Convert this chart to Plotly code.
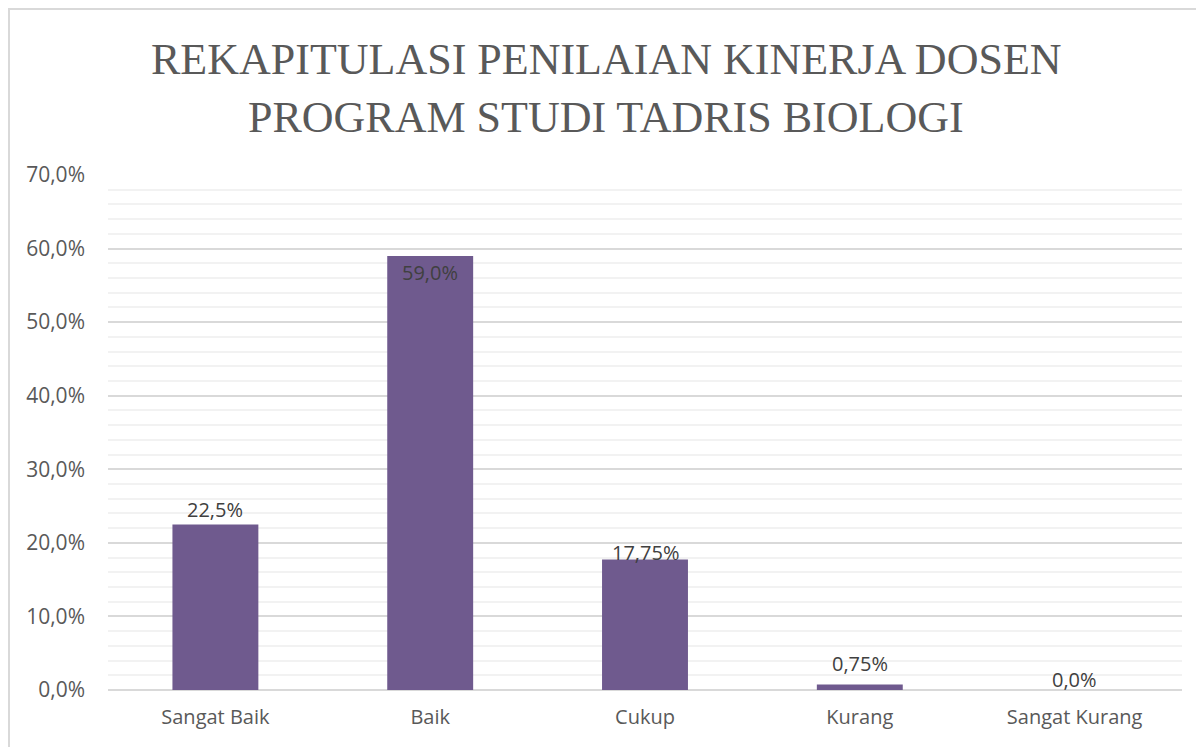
import plotly.graph_objects as go

categories = ["Sangat Baik", "Baik", "Cukup", "Kurang", "Sangat Kurang"]
values = [0.225, 0.59, 0.1775, 0.0075, 0.0]
value_labels = ["22,5%", "59,0%", "17,75%", "0,75%", "0,0%"]
title_lines = ["REKAPITULASI PENILAIAN KINERJA DOSEN", "PROGRAM STUDI TADRIS BIOLOGI"]

# label placement offsets (pixels) relative to bar top
label_shift = [15, -17, 7, 21, 11]

# page body has an 8px margin, so figure is sized to fill the rest of the window
W, H = 1196, 739
L, R, T, B = 100, 22, 167, 57
pw, ph = W - L - R, H - T - B

fig = go.Figure()
fig.add_trace(go.Bar(
    x=categories, y=values,
    marker=dict(color="#6F5A8E", line=dict(width=0)),
    width=0.4,
    hoverinfo="skip",
))

for c, v, t, s in zip(categories, values, value_labels, label_shift):
    fig.add_annotation(x=c, y=v, text=t, showarrow=False, yshift=s,
                       font=dict(family="Open Sans", size=20, color="#404040"))

# title lines as annotations (pixel centres from top of figure)
for line, ypx in zip(title_lines, [51, 109]):
    fig.add_annotation(xref="paper", yref="paper", x=(W / 2 - L) / pw, y=(H - B - ypx) / ph,
                       text=line, showarrow=False, xanchor="center", yanchor="middle",
                       font=dict(family="Liberation Serif", size=44, color="#595959"))

# chart border
fig.add_shape(type="rect", xref="paper", yref="paper",
              x0=(1 - L) / pw, x1=(W + 20 - L) / pw,
              y0=-(B + 20) / ph, y1=(H - B - 1) / ph,
              line=dict(color="#D9D9D9", width=2), fillcolor="rgba(0,0,0,0)", layer="below")

fig.update_layout(
    width=W, height=H,
    margin=dict(l=L, r=R, t=T, b=B),
    paper_bgcolor="white", plot_bgcolor="white",
    separators=",.",
    showlegend=False,
    bargap=0.6,
    xaxis=dict(showgrid=False, showline=False, ticks="", zeroline=False,
               tickfont=dict(family="Open Sans", size=20, color="#595959"),
               ticklabelstandoff=13),
    yaxis=dict(range=[0, 0.7], dtick=0.1, tickformat=".1%",
               showgrid=True, gridcolor="#D9D9D9", gridwidth=1.5,
               zeroline=True, zerolinecolor="#D9D9D9", zerolinewidth=1.5,
               showline=False, ticks="",
               tickfont=dict(family="Open Sans", size=21, color="#595959"),
               ticklabelstandoff=22,
               minor=dict(dtick=0.02, showgrid=True, gridcolor="#F2F2F2", gridwidth=1.5)),
)

fig.write_html("out.html")
